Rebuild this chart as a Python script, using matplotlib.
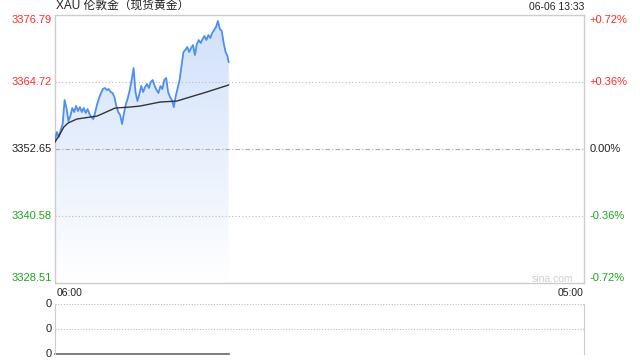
import matplotlib

matplotlib.use("Agg")
import matplotlib.pyplot as plt  # noqa: E402
import numpy as np  # noqa: E402
from matplotlib.colors import LinearSegmentedColormap  # noqa: E402

plt.rcParams["font.family"] = ["Liberation Sans", "Noto Sans CJK SC", "DejaVu Sans"]

# minutes after 06:00, one sample every 5 minutes, last tick at 13:33
price_t = list(range(0, 455, 5)) + [453]
price = [
    3354.27, 3355.71, 3354.81, 3356.07, 3357.15, 3361.47, 3360.03, 3357.69, 3358.59, 3360.03,
    3359.31, 3360.39, 3359.49, 3360.21, 3359.31, 3360.03, 3359.13, 3359.85, 3358.95, 3358.41,
    3358.05, 3359.31, 3360.75, 3361.84, 3362.74, 3363.46, 3363.64, 3363.28, 3363.46, 3362.92,
    3362.74, 3362.02, 3360.39, 3359.31, 3358.77, 3357.15, 3359.13, 3360.75, 3361.84, 3363.28,
    3365.08, 3367.24, 3362.92, 3361.29, 3362.56, 3364.00, 3362.92, 3363.82, 3364.36, 3363.64,
    3364.72, 3365.08, 3364.00, 3363.28, 3362.74, 3364.00, 3363.46, 3365.08, 3365.44, 3362.92,
    3362.02, 3361.47, 3360.21, 3362.20, 3363.64, 3365.08, 3367.60, 3370.12, 3370.48, 3371.02,
    3370.12, 3370.84, 3371.38, 3369.58, 3371.56, 3372.28, 3371.74, 3372.46, 3373.00, 3372.28,
    3373.18, 3372.64, 3373.55, 3374.09, 3374.63, 3375.71, 3374.27, 3373.91, 3371.74, 3370.12,
    3369.40, 3368.32,
]

avg_t = [0, 13, 23, 34, 57, 110, 157, 196, 222, 274, 318, 344, 396, 453]
avg = [3353.91, 3355.35, 3356.61, 3357.33, 3358.05, 3358.59, 3360.03, 3360.21,
       3360.39, 3361.11, 3361.29, 3361.84, 3362.92, 3364.18]

vol_t = [0, 453]
vol = [0, 0]

base = 3352.65
levels = [3328.51, 3340.58, 3352.65, 3364.72, 3376.79]
level_labels = ["3328.51", "3340.58", "3352.65", "3364.72", "3376.79"]
pct_labels = ["-0.72%", "-0.36%", "0.00%", "+0.36%", "+0.72%"]
level_colors = ["#1aa51a", "#1aa51a", "#222222", "#ff2a2a", "#ff2a2a"]

t_end = 1380  # 06:00 -> 05:00 next day

BORDER = "#cccccc"

fig = plt.figure(figsize=(6.4, 3.6), dpi=100)
ax = fig.add_axes([55 / 640, 1 - 283 / 360, 529 / 640, 268 / 360])
ax.set_xlim(0, t_end)
ax.set_ylim(levels[0], levels[-1])

# gradient area under the price line
cmap = LinearSegmentedColormap.from_list("fade", ["#ffffff", "#cfe0fa"])
grad = np.linspace(0, 1, 256).reshape(-1, 1)
img = ax.imshow(grad, cmap=cmap, aspect="auto", origin="lower",
                extent=[0, t_end, levels[0], levels[-1]], zorder=1)
poly = ax.fill_between(price_t, price, levels[0], color="none", lw=0)
clip = poly.get_paths()[0]
img.set_clip_path(clip, transform=ax.transData)

ax.plot(price_t, price, color="#4d8ff0", lw=1.3, zorder=3)
ax.plot(avg_t, avg, color="#333333", lw=1.0, zorder=4)

ax.axhline(levels[1], color="#bbbbbb", lw=0.8, ls=(0, (1, 2)), zorder=2)
ax.axhline(levels[3], color="#bbbbbb", lw=0.8, ls=(0, (1, 2)), zorder=2)
ax.axhline(base, color="#aaaaaa", lw=0.8, ls=(0, (4, 2, 1, 2)), zorder=2)

for s in ax.spines.values():
    s.set_color(BORDER)
    s.set_linewidth(1)
ax.set_xticks([])
ax.set_yticks([])

for i, v in enumerate(levels):
    va = "center"
    if i == 0:
        va = "bottom"
    elif i == len(levels) - 1:
        va = "top"
    ax.text(-0.006, v, level_labels[i], transform=ax.get_yaxis_transform(),
            ha="right", va=va, color=level_colors[i], fontsize=8)
    ax.text(1.011, v, pct_labels[i], transform=ax.get_yaxis_transform(),
            ha="left", va=va, color=level_colors[i], fontsize=8)

ax.text(0.002, 1.012, "XAU 伦敦金（现货黄金）", transform=ax.transAxes,
        ha="left", va="bottom", fontsize=8.5, color="#222222")
ax.text(1.0, 1.012, "06-06 13:33", transform=ax.transAxes,
        ha="right", va="bottom", fontsize=7.5, color="#222222")
ax.text(0.004, -0.018, "06:00", transform=ax.transAxes,
        ha="left", va="top", fontsize=7.5, color="#222222")
ax.text(1.0, -0.018, "05:00", transform=ax.transAxes,
        ha="right", va="top", fontsize=7.5, color="#222222")
ax.text(0.98, 0.016, "sina.com", transform=ax.transAxes,
        ha="right", va="center", fontsize=7.5, color="#d0d0d0")

# volume panel (empty)
vx = fig.add_axes([55 / 640, 1 - 354 / 360, 529 / 640, 50 / 360])
vx.set_xlim(0, t_end)
vx.set_ylim(0, 1)
for y in (0, 0.5, 1):
    vx.axhline(y, color="#bbbbbb", lw=0.8, ls=(0, (1, 1.5)))
    vx.text(-0.006, y, "0", transform=vx.get_yaxis_transform(),
            ha="right", va="center", fontsize=8, color="#222222")
vx.plot(vol_t, vol, color="#666666", lw=1.2, clip_on=False)
vx.spines["top"].set_visible(False)
vx.spines["bottom"].set_visible(False)
vx.spines["left"].set_color(BORDER)
vx.spines["right"].set_color(BORDER)
vx.set_xticks([])
vx.set_yticks([])

fig.savefig("out.png", dpi=100)
